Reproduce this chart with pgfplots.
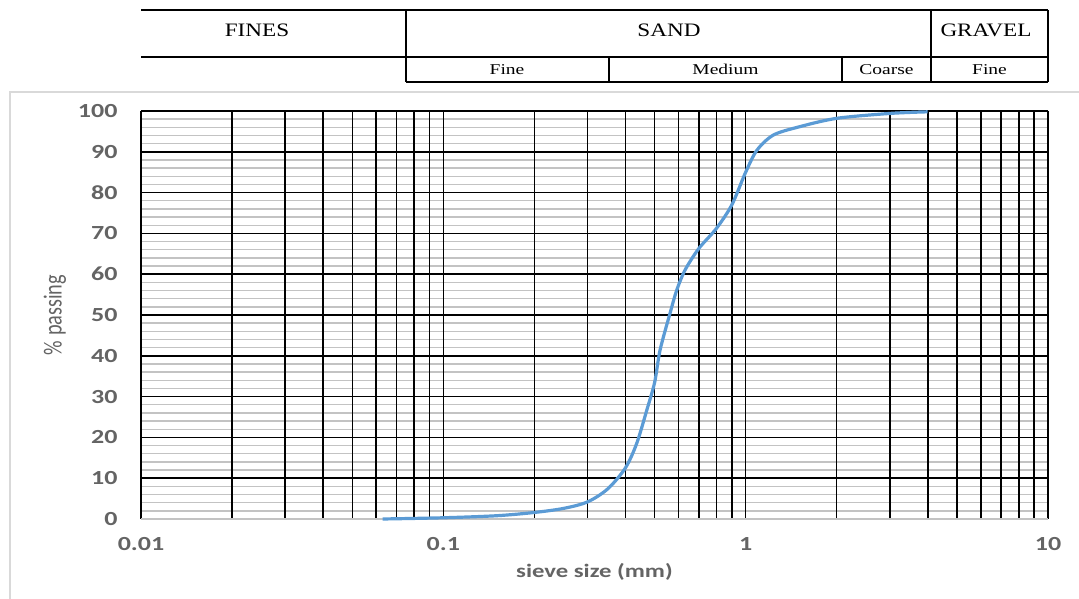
\documentclass[border=0pt]{standalone}
\usepackage{pgfplots}
\pgfplotsset{compat=1.18}
\usepackage{fontspec}
\setmainfont{Carlito}
\newfontfamily\tickfont[FakeStretch=1.3]{Carlito}
\newfontfamily\ylabfont[FakeStretch=0.78]{Carlito}
\newfontfamily\hdrfont[FakeStretch=1.22]{Liberation Serif}
\newfontfamily\subfont[FakeStretch=1.3]{Liberation Serif}
\definecolor{curveblue}{RGB}{91,155,213}
\definecolor{tickgray}{RGB}{100,100,100}
\definecolor{minorgray}{RGB}{195,195,195}
\definecolor{bordergray}{RGB}{217,217,217}
\begin{document}
\begin{tikzpicture}[x=1bp,y=1bp]
\path[use as bounding box] (0,0) rectangle (1079,599);
% chart area border
\draw[bordergray, line width=1.5bp] (10,0) -- (10,507) -- (1079,507);
% header table
\begin{scope}[line width=1.6bp, black]
\draw (141,589) -- (1048,589);
\draw (141,542) -- (1048,542);
\draw (406,517) -- (1048,517);
\draw (406,517) -- (406,589);
\draw (931,517) -- (931,589);
\draw (1048,517) -- (1048,589);
\draw (609,517) -- (609,542);
\draw (842,517) -- (842,542);
\end{scope}
\begin{scope}[every node/.style={font=\hdrfont\fontsize{19bp}{22bp}\selectfont, inner sep=0pt}]
\node at (257,569) {FINES};
\node at (669,569) {SAND};
\node at (986,569) {GRAVEL};
\end{scope}
\begin{scope}[every node/.style={font=\subfont\fontsize{15bp}{18bp}\selectfont, inner sep=0pt}]
\node at (507,529.5) {Fine};
\node at (725.5,529.5) {Medium};
\node at (886.5,529.5) {Coarse};
\node at (989.5,529.5) {Fine};
\end{scope}
\begin{axis}[
  at={(141bp,80bp)}, anchor=south west,
  scale only axis, width=907bp, height=408bp,
  xmode=log, xmin=0.01, xmax=10, ymin=0, ymax=100,
  axis line style={draw=none},
  xtick={0.01,0.1,1,10}, xticklabels={0.01,0.1,1,10},
  extra x ticks={0.01,0.02,0.03,0.04,0.05,0.06,0.07,0.08,0.09,0.1,0.2,0.3,0.4,0.5,0.6,0.7,0.8,0.9,1,2,3,4,5,6,7,8,9,10},
  extra x tick labels={},
  extra x tick style={xmajorgrids=true, major grid style={black, line width=1.6bp}},
  ytick={10,20,30,40,50,60,70,80,90,100},
  yticklabels={10,20,30,40,50,60,70,80,90,100},
  extra y ticks={0}, extra y tick labels={0},
  extra y tick style={ymajorgrids=true, major grid style={minorgray, line width=1.5bp}},
  minor ytick={2,4,6,8,12,14,16,18,22,24,26,28,32,34,36,38,42,44,46,48,52,54,56,58,62,64,66,68,72,74,76,78,82,84,86,88,92,94,96,98},
  major tick length=0pt, minor tick length=0pt,
  xmajorgrids=false, xminorgrids=false,
  ymajorgrids=true, yminorgrids=true,
  major grid style={black, line width=1.6bp},
  minor y grid style={minorgray, line width=1.4bp},
  ticklabel style={font=\tickfont\bfseries\fontsize{20bp}{24bp}\selectfont, text=tickgray},
  xticklabel style={anchor=center, yshift=-25bp},
  yticklabel style={anchor=east, xshift=-20bp},
  xlabel={sieve size (mm)},
  xlabel style={at={(axis description cs:0.5,0)}, anchor=center, yshift=-53bp,
    font=\tickfont\bfseries\fontsize{19bp}{22bp}\selectfont, text=tickgray},
  ylabel={\% passing},
  ylabel style={at={(axis description cs:0,0.5)}, anchor=center, yshift=86bp,
    font=\ylabfont\fontsize{26bp}{30bp}\selectfont, text=tickgray},
  clip=false,
]
\addplot[color=curveblue, line width=3.2bp, smooth, tension=0.5] coordinates {
(0.063,0)
(0.1,0.3)
(0.15,0.8)
(0.2,1.6)
(0.25,2.6)
(0.3,4.2)
(0.35,7.4)
(0.4,12.5)
(0.436,18.5)
(0.471,26.7)
(0.50,33.5)
(0.521,41.4)
(0.562,50.4)
(0.591,56)
(0.63,61)
(0.7,66.3)
(0.8,71.2)
(0.9,77)
(1.0,85)
(1.09,90.4)
(1.235,94.1)
(1.5,96.1)
(2,98.2)
(3,99.4)
(4,99.8)
};
\end{axis}
\end{tikzpicture}
\end{document}
